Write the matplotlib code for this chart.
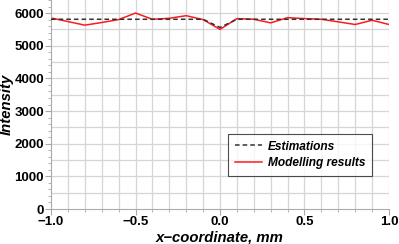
import matplotlib
matplotlib.use("Agg")
import matplotlib.pyplot as plt
from matplotlib.ticker import MultipleLocator

x = [-1.0, -0.9, -0.8, -0.7, -0.6, -0.5, -0.4, -0.3, -0.2, -0.1, 0.0,
     0.1, 0.2, 0.3, 0.4, 0.5, 0.6, 0.7, 0.8, 0.9, 1.0]
estimations = [5810, 5810, 5810, 5810, 5810, 5810, 5810, 5810, 5810, 5810, 5560,
               5810, 5810, 5810, 5810, 5810, 5810, 5810, 5810, 5810, 5810]
modelling = [5850, 5740, 5630, 5710, 5800, 6000, 5810, 5840, 5920, 5800, 5500,
             5830, 5810, 5700, 5860, 5830, 5810, 5730, 5650, 5780, 5650]

plt.rcParams['font.family'] = ['Liberation Sans', 'DejaVu Sans']

fig = plt.figure(figsize=(3.99, 2.44), dpi=100)
ax = fig.add_axes([51/399, 35/244, 338/399, 209/244])

ax.set_xlim(-1.0, 1.0)
ax.set_ylim(0, 6400)
ax.xaxis.set_major_locator(MultipleLocator(0.5))
ax.xaxis.set_minor_locator(MultipleLocator(0.1))
ax.yaxis.set_major_locator(MultipleLocator(1000))
ax.yaxis.set_minor_locator(MultipleLocator(200))

for gx in [i / 10 for i in range(-9, 11)]:
    ax.axvline(gx, color='#d6d6d6', lw=0.9, zorder=0)
for gy in range(500, 6500, 500):
    ax.axhline(gy, color='#d6d6d6', lw=0.9, zorder=0)

ax.plot(x, estimations, color='#333333', ls=(0, (3, 2)), lw=1.1, label='Estimations', zorder=3)
ax.plot(x, modelling, color='#ff1a1a', lw=1.1, label='Modelling results', zorder=2)

for s in ['top', 'right']:
    ax.spines[s].set_visible(False)
for s in ['left', 'bottom']:
    ax.spines[s].set_color('#aaaaaa')
    ax.spines[s].set_linewidth(0.8)

ax.tick_params(axis='both', which='major', labelsize=9.5, length=4, color='#aaaaaa', pad=1)
ax.tick_params(axis='both', which='minor', length=2, color='#aaaaaa')
for lab in ax.get_xticklabels() + ax.get_yticklabels():
    lab.set_fontweight('bold')
ax.set_xticks([-1.0, -0.5, 0.0, 0.5, 1.0])
ax.set_xticklabels(['\u22121.0', '\u22120.5', '0.0', '0.5', '1.0'], fontweight='bold')

ax.set_xlabel('x\u2212coordinate, mm', fontsize=10.7, fontweight='bold', fontstyle='italic', va='center')
ax.set_ylabel('Intensity', fontsize=10.7, fontweight='bold', fontstyle='italic', va='center')
ax.xaxis.set_label_coords(0.5, -0.134)
ax.yaxis.set_label_coords(-0.13, 0.5)

leg = ax.legend(loc='lower right', bbox_to_anchor=(0.95, 0.158), borderaxespad=0,
                prop={'size': 8.6, 'weight': 'bold', 'style': 'italic'},
                frameon=True, fancybox=False, shadow=False, handlelength=2.3, handletextpad=0.5,
                borderpad=0.55, labelspacing=0.4)
leg.get_frame().set_edgecolor('#222222')
leg.get_frame().set_linewidth(0.8)

fig.savefig('out.png', dpi=100)
